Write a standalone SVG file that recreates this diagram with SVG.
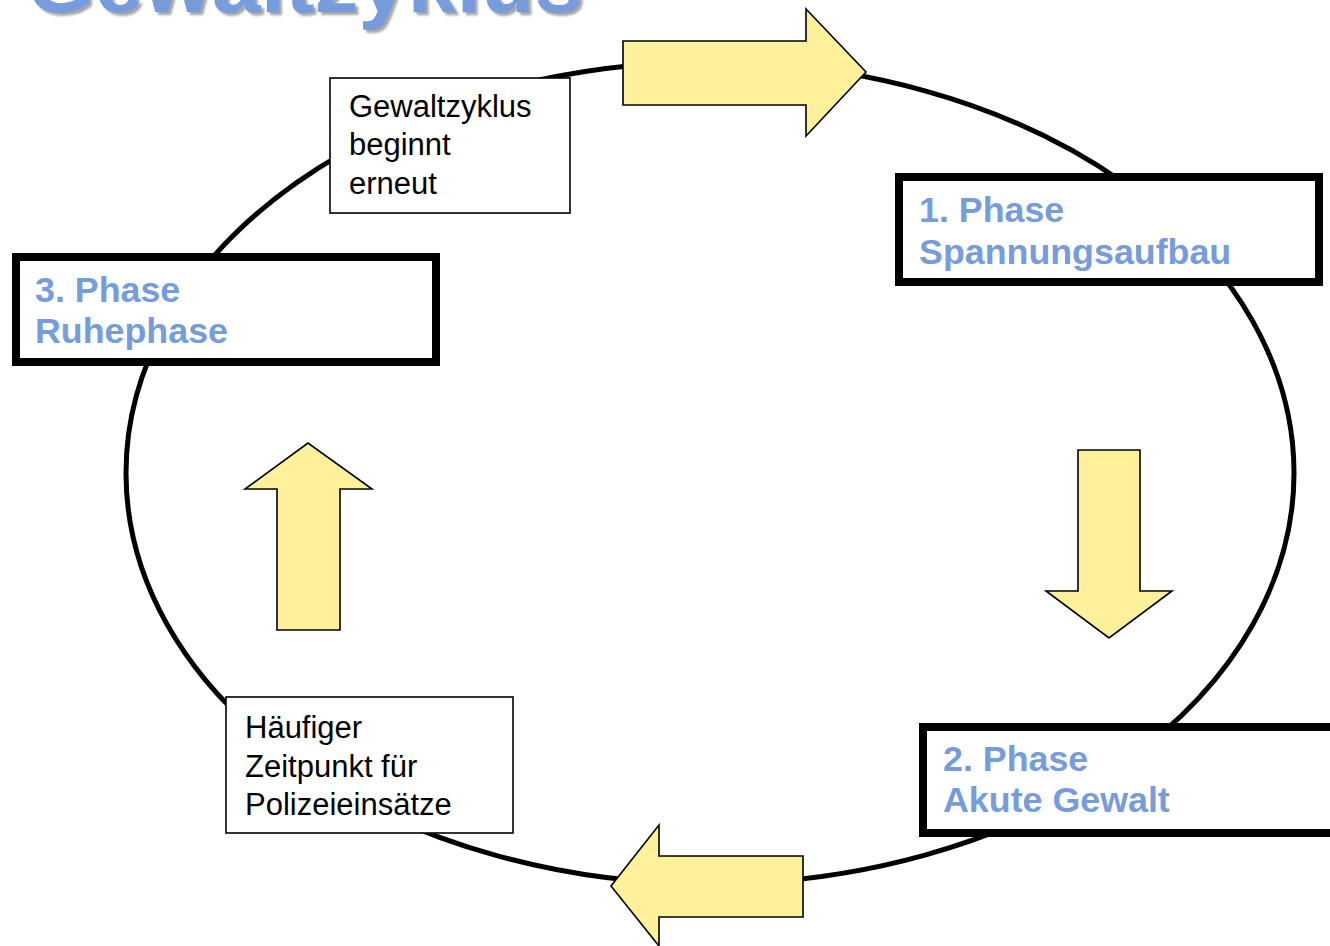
<svg xmlns="http://www.w3.org/2000/svg" width="1330" height="946" viewBox="0 0 1330 946">
<defs>
<filter id="shadow" x="-5%" y="-50%" width="110%" height="200%">
<feDropShadow dx="3" dy="3" stdDeviation="1.2" flood-color="#808080" flood-opacity="0.7"/>
</filter>
</defs>
<style>
.title{font-family:"Liberation Sans",Arial,sans-serif;font-weight:bold;font-size:88px;fill:#769cdb}
.phase{fill:#fff;stroke:#000;stroke-width:8}
.ptext{font-family:"Liberation Sans",Arial,sans-serif;font-weight:bold;font-size:35.8px;fill:#769cdb}
.note{fill:#fff;stroke:#000;stroke-width:1.6}
.ntext{font-family:"Liberation Sans",Arial,sans-serif;font-size:31px;fill:#000}
.arrow{fill:#fff19c;stroke:#000;stroke-width:1.6;stroke-linejoin:miter}
</style>
<rect width="1330" height="946" fill="#fff"/>
<g id="title">
<text class="title" x="26" y="12" filter="url(#shadow)">Gewaltzyklus</text>
</g>
<g id="connectors">
<ellipse cx="710" cy="473" rx="584" ry="411" fill="none" stroke="#000" stroke-width="5"/>
</g>
<g id="phase1">
<rect class="phase" x="899" y="177" width="420" height="105"/>
<text class="ptext" x="919" y="222">1. Phase</text>
<text class="ptext" x="919" y="264">Spannungsaufbau</text>
</g>
<g id="phase2">
<rect class="phase" x="923" y="727" width="450" height="106"/>
<text class="ptext" x="943" y="771">2. Phase</text>
<text class="ptext" x="943" y="812">Akute Gewalt</text>
</g>
<g id="phase3">
<rect class="phase" x="16" y="257" width="420" height="105"/>
<text class="ptext" x="35" y="302">3. Phase</text>
<text class="ptext" x="35" y="343">Ruhephase</text>
</g>
<g id="note-restart">
<rect class="note" x="330" y="78" width="240" height="135"/>
<text class="ntext" x="349" y="117">Gewaltzyklus</text>
<text class="ntext" x="349" y="155">beginnt</text>
<text class="ntext" x="349" y="194">erneut</text>
</g>
<g id="note-police">
<rect class="note" x="226" y="697" width="287" height="136"/>
<text class="ntext" x="245" y="738">Häufiger</text>
<text class="ntext" x="245" y="777">Zeitpunkt für</text>
<text class="ntext" x="245" y="815">Polizeieinsätze</text>
</g>
<g id="arrow-top">
<polygon class="arrow" points="623,41 806,41 806,9 866,72 806,136 806,105 623,105"/>
</g>
<g id="arrow-right">
<polygon class="arrow" points="1078,450 1140,450 1140,591 1172,591 1109,638 1046,591 1078,591"/>
</g>
<g id="arrow-bottom">
<polygon class="arrow" points="803,856 803,917 659,917 659,946 611,886 659,825 659,856"/>
</g>
<g id="arrow-left">
<polygon class="arrow" points="277,630 277,489 245,489 308,443 372,489 340,489 340,630"/>
</g>
</svg>
